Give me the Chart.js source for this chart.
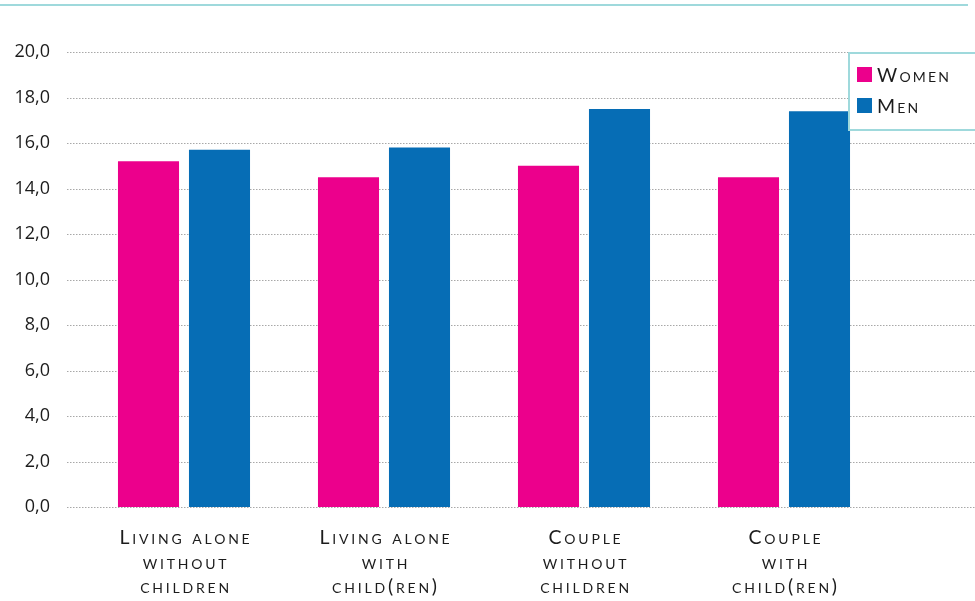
<!DOCTYPE html>
<html>
<head>
<meta charset="utf-8">
<script src="https://cdn.jsdelivr.net/npm/chart.js@4.4.1/dist/chart.umd.min.js"></script>
<style>
  html, body { margin: 0; padding: 0; background: #fff; }
  #wrap { width: 975px; height: 601px; }
</style>
</head>
<body>
<div id="wrap"><canvas id="chart" width="975" height="601"></canvas></div>
<script>
// household types, one entry per line of the axis label
const categories = [
  ['Living alone', 'without', 'children'],
  ['Living alone', 'with', 'child(ren)'],
  ['Couple', 'without', 'children'],
  ['Couple', 'with', 'child(ren)']
];
const women = [15.2, 14.5, 15.0, 14.5];
const men = [15.7, 15.8, 17.5, 17.4];
const yMin = 0;
const yMax = 20;
const yStep = 2;

const PINK = '#EC008C';
const BLUE = '#066DB5';
const TEAL = '#9FD9DC';
const TEXT = '#1c1c1c';
const CAPS_FONT = 'small-caps 19.5px Lato';

// thin teal rule along the top of the figure
const topRule = {
  id: 'topRule',
  beforeDraw(chart) {
    const ctx = chart.ctx;
    ctx.save();
    ctx.strokeStyle = TEAL;
    ctx.lineWidth = 2;
    ctx.beginPath();
    ctx.moveTo(0, 5);
    ctx.lineTo(968, 5);
    ctx.stroke();
    ctx.restore();
  }
};

// dotted gridlines that run past the plot area on both sides
const dottedGrid = {
  id: 'dottedGrid',
  beforeDatasetsDraw(chart) {
    const ctx = chart.ctx;
    const y = chart.scales.y;
    ctx.save();
    ctx.strokeStyle = '#a8a8a8';
    ctx.lineWidth = 1;
    ctx.setLineDash([1.5, 1.5]);
    y.ticks.forEach(t => {
      const py = Math.round(y.getPixelForValue(t.value)) + 0.5;
      ctx.beginPath();
      ctx.moveTo(67, py);
      ctx.lineTo(chart.width, py);
      ctx.stroke();
    });
    ctx.restore();
  }
};

// small-caps category labels under each pair of bars
const categoryLabels = {
  id: 'categoryLabels',
  afterDraw(chart) {
    const ctx = chart.ctx;
    const x = chart.scales.x;
    const base = chart.chartArea.bottom;
    ctx.save();
    ctx.font = CAPS_FONT;
    ctx.fontVariantCaps = 'small-caps';
    ctx.letterSpacing = '2.8px';
    ctx.fillStyle = TEXT;
    ctx.textAlign = 'center';
    ctx.textBaseline = 'alphabetic';
    categories.forEach((lines, i) => {
      const px = x.getPixelForValue(i) + 2;
      lines.forEach((line, j) => {
        ctx.fillText(line, px, base + 37 + j * 24.5);
      });
    });
    ctx.restore();
  }
};

// boxed legend in the top right corner
const boxLegend = {
  id: 'boxLegend',
  afterDraw(chart) {
    const ctx = chart.ctx;
    const left = 849, top = 53, bottom = 130;
    ctx.save();
    ctx.fillStyle = '#fff';
    ctx.fillRect(left, top, chart.width - left + 5, bottom - top);
    ctx.strokeStyle = TEAL;
    ctx.lineWidth = 2;
    ctx.strokeRect(left, top, chart.width - left + 5, bottom - top);
    ctx.font = CAPS_FONT;
    ctx.fontVariantCaps = 'small-caps';
    ctx.letterSpacing = '2.2px';
    ctx.textBaseline = 'alphabetic';
    chart.data.datasets.forEach((ds, i) => {
      const yy = 67 + i * 31;
      ctx.fillStyle = ds.backgroundColor;
      ctx.fillRect(857, yy, 15, 15);
      ctx.fillStyle = TEXT;
      ctx.fillText(ds.label, 877, yy + 15);
    });
    ctx.restore();
  }
};

new Chart(document.getElementById('chart'), {
  type: 'bar',
  data: {
    labels: categories.map(c => c.join(' ')),
    datasets: [
      { label: 'Women', data: women, backgroundColor: PINK },
      { label: 'Men', data: men, backgroundColor: BLUE }
    ]
  },
  options: {
    responsive: false,
    animation: false,
    devicePixelRatio: 1,
    layout: { padding: { top: 52, right: 91, bottom: 94, left: 0 } },
    datasets: {
      bar: { categoryPercentage: 0.71, barPercentage: 0.86 }
    },
    scales: {
      x: { display: false },
      y: {
        min: yMin,
        max: yMax,
        border: { display: false },
        grid: { display: false, drawTicks: false },
        afterFit(scale) { scale.width = 84; },
        ticks: {
          stepSize: yStep,
          padding: 34,
          color: TEXT,
          font: { family: 'Open Sans', size: 18 },
          callback: v => v.toFixed(1).replace('.', ',')
        }
      }
    },
    plugins: {
      legend: { display: false },
      tooltip: { enabled: false }
    }
  },
  plugins: [topRule, dottedGrid, categoryLabels, boxLegend]
});
</script>
</body>
</html>
